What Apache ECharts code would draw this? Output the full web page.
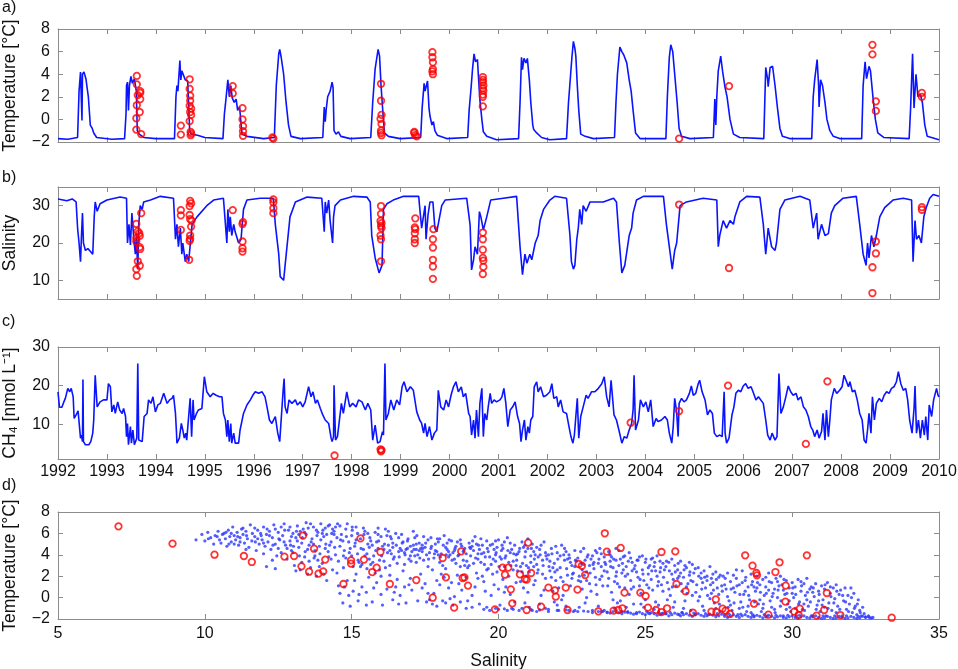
<!DOCTYPE html>
<html>
<head>
<meta charset="utf-8">
<script src="https://cdn.jsdelivr.net/npm/echarts@6/dist/echarts.min.js"></script>
<style>
  html, body { margin: 0; padding: 0; background: #fff; }
  #chart { width: 958px; height: 669px; }
</style>
</head>
<body>
<div id="chart"></div>
<script>
// ---- data ----
// a) temperature record [year, degC]
var tempLine = [
  [1992.00,-1.7],[1992.20,-1.75],[1992.40,-1.6],[1992.43,2.5],[1992.46,4.2],[1992.49,-0.1],[1992.50,4.0],[1992.53,4.2],[1992.57,3.6],[1992.62,2.0],[1992.66,-0.5],[1992.70,-0.8],[1992.73,-1.2],[1992.79,-1.6],
  [1993.10,-1.75],[1993.36,-1.7],[1993.39,0.5],[1993.40,3.0],[1993.42,3.3],[1993.44,0.8],[1993.46,3.0],[1993.49,3.8],[1993.52,3.2],[1993.56,3.6],[1993.60,2.5],[1993.62,-1.0],[1993.66,-1.3],[1993.75,-1.6],[1994.00,-1.7],
  [1994.38,-1.7],[1994.41,2.0],[1994.43,3.0],[1994.45,2.5],[1994.49,5.2],[1994.51,3.5],[1994.53,4.3],[1994.56,4.2],[1994.60,3.5],[1994.65,3.4],[1994.69,-1.0],[1994.72,-1.3],[1994.85,-1.4],[1995.00,-1.6],
  [1995.37,-1.7],[1995.40,0.5],[1995.42,1.3],[1995.47,3.5],[1995.50,2.0],[1995.53,3.0],[1995.56,1.9],[1995.60,1.5],[1995.64,1.8],[1995.67,0.8],[1995.71,1.1],[1995.76,-1.3],[1995.86,-1.5],[1996.20,-1.7],
  [1996.42,-1.6],[1996.46,3.0],[1996.51,5.8],[1996.53,6.2],[1996.56,5.5],[1996.61,4.0],[1996.66,1.5],[1996.71,-0.5],[1996.76,-1.5],[1996.95,-1.7],
  [1997.41,-1.6],[1997.44,1.1],[1997.46,-0.2],[1997.48,0.9],[1997.51,2.0],[1997.56,2.5],[1997.60,3.3],[1997.62,2.8],[1997.64,-1.0],[1997.68,-1.3],[1997.73,-1.1],[1997.78,-1.5],[1997.97,-1.7],
  [1998.39,-1.6],[1998.43,1.5],[1998.48,4.5],[1998.54,6.2],[1998.57,5.6],[1998.60,3.0],[1998.64,0.5],[1998.67,-1.2],[1998.75,-1.5],[1998.99,-1.7],
  [1999.41,-1.6],[1999.44,1.0],[1999.48,3.2],[1999.50,2.5],[1999.55,3.4],[1999.58,1.0],[1999.60,0.3],[1999.64,-0.5],[1999.67,-0.2],[1999.70,-1.0],[1999.75,-1.4],[1999.94,-1.7],
  [2000.37,-1.6],[2000.40,0.8],[2000.44,2.8],[2000.47,4.5],[2000.50,5.8],[2000.53,5.1],[2000.57,5.3],[2000.59,3.8],[2000.62,1.7],[2000.66,0.0],[2000.69,-1.1],[2000.76,-1.5],[2000.96,-1.8],
  [2001.41,-1.7],[2001.44,1.5],[2001.47,5.5],[2001.49,4.4],[2001.52,5.4],[2001.56,5.0],[2001.59,5.4],[2001.63,3.5],[2001.66,1.5],[2001.70,-0.5],[2001.72,-0.9],[2001.78,-1.2],[2001.88,-1.6],[2002.05,-1.8],
  [2002.39,-1.7],[2002.43,1.5],[2002.46,3.2],[2002.50,5.5],[2002.53,6.9],[2002.56,6.3],[2002.58,5.6],[2002.61,3.0],[2002.64,0.8],[2002.68,-1.3],[2002.77,-1.5],[2002.94,-1.7],
  [2003.37,-1.6],[2003.40,1.5],[2003.43,4.0],[2003.48,6.4],[2003.52,6.0],[2003.56,5.7],[2003.62,5.0],[2003.67,3.5],[2003.71,2.5],[2003.75,0.8],[2003.80,-1.2],[2003.89,-1.7],
  [2004.42,-1.7],[2004.45,2.0],[2004.49,5.5],[2004.52,6.6],[2004.56,6.0],[2004.60,4.0],[2004.65,1.5],[2004.69,-0.8],[2004.74,-1.5],[2004.91,-1.7],
  [2005.39,-1.6],[2005.42,1.8],[2005.44,-0.5],[2005.46,2.0],[2005.49,4.3],[2005.54,5.6],[2005.58,4.2],[2005.63,2.8],[2005.67,2.0],[2005.73,0.0],[2005.80,-1.3],[2005.93,-1.6],
  [2006.42,-1.7],[2006.46,4.6],[2006.50,3.5],[2006.51,2.9],[2006.55,4.6],[2006.60,4.7],[2006.65,3.0],[2006.70,1.0],[2006.75,-0.8],[2006.80,-1.5],[2006.95,-1.7],
  [2007.40,-1.7],[2007.43,2.0],[2007.46,3.5],[2007.51,5.3],[2007.54,3.0],[2007.55,1.1],[2007.58,3.5],[2007.62,3.0],[2007.67,1.5],[2007.71,0.0],[2007.77,-1.0],[2007.84,-1.5],[2007.97,-1.7],
  [2008.42,-1.7],[2008.45,3.0],[2008.49,5.1],[2008.52,3.6],[2008.57,4.7],[2008.60,4.3],[2008.65,2.0],[2008.70,0.0],[2008.75,-1.2],[2008.87,-1.6],
  [2009.39,-1.7],[2009.42,1.0],[2009.46,5.8],[2009.49,1.0],[2009.53,4.0],[2009.57,2.0],[2009.62,2.2],[2009.66,1.5],[2009.71,-0.5],[2009.76,-1.5],[2010.00,-1.8]
];
var tempObs = [
  [1993.61,3.85],[1993.61,3.1],[1993.68,2.5],[1993.68,2.35],[1993.63,2.15],[1993.68,1.8],[1993.61,1.25],[1993.67,0.65],[1993.60,0.1],[1993.60,-0.9],[1993.70,-1.3],
  [1994.51,-0.55],[1994.51,-1.35],
  [1994.69,3.55],[1994.69,2.7],[1994.70,2.1],[1994.70,1.65],[1994.69,1.2],[1994.72,0.95],[1994.70,0.65],[1994.72,0.4],[1994.69,-0.15],[1994.71,-1.1],[1994.72,-1.25],[1994.71,-1.4],
  [1995.57,2.95],[1995.57,2.3],[1995.77,1.0],[1995.77,0.0],[1995.78,-0.6],[1995.78,-1.05],[1995.78,-1.45],
  [1996.38,-1.6],[1996.40,-1.7],
  [1998.60,3.15],[1998.60,1.65],[1998.61,0.4],[1998.59,0.05],[1998.61,-0.4],[1998.60,-1.0],[1998.60,-1.2],[1998.61,-1.4],
  [1999.28,-1.1],[1999.28,-1.2],[1999.30,-1.4],[1999.33,-1.5],
  [1999.65,5.95],[1999.65,5.5],[1999.66,5.05],[1999.66,4.45],[1999.65,4.25],[1999.66,4.0],
  [2000.68,3.75],[2000.68,3.5],[2000.68,3.3],[2000.69,3.0],[2000.68,2.75],[2000.69,2.55],[2000.68,2.2],[2000.68,2.0],[2000.68,1.15],
  [2004.69,-1.7],[2005.71,2.95],
  [2008.64,6.6],[2008.64,5.75],[2008.71,1.6],[2008.71,0.75],
  [2009.65,2.35],[2009.65,2.0]
];

// b) salinity record
var salLine = [
  [1992.00,31.8],[1992.18,31.3],[1992.29,31.8],[1992.33,32.3],[1992.37,31.0],[1992.40,24.0],[1992.43,20.0],[1992.46,15.0],[1992.48,22.0],[1992.50,28.0],[1992.52,20.0],[1992.56,18.0],[1992.61,18.5],[1992.66,17.8],[1992.71,17.0],[1992.74,27.0],[1992.76,31.0],[1992.80,28.5],[1992.86,30.5],
  [1993.00,31.5],[1993.27,32.3],[1993.40,32.0],[1993.42,20.0],[1993.45,25.0],[1993.48,19.5],[1993.51,28.0],[1993.55,21.0],[1993.58,17.0],[1993.60,22.0],[1993.63,13.0],[1993.65,25.0],[1993.68,30.0],[1993.72,29.0],[1993.75,31.0],[1993.89,31.5],
  [1994.09,32.5],[1994.36,32.0],[1994.40,21.0],[1994.43,25.0],[1994.46,19.0],[1994.50,24.0],[1994.53,17.0],[1994.55,20.0],[1994.60,15.0],[1994.63,17.0],[1994.67,15.0],[1994.74,25.0],[1994.84,27.0],
  [1995.04,30.0],[1995.18,31.5],[1995.38,32.0],[1995.45,20.0],[1995.47,29.0],[1995.50,23.0],[1995.52,27.0],[1995.55,22.0],[1995.59,25.0],[1995.62,23.0],[1995.69,20.0],[1995.74,21.0],[1995.79,29.0],[1995.86,31.5],
  [1996.13,32.0],[1996.40,32.0],[1996.44,25.0],[1996.51,17.0],[1996.54,11.0],[1996.61,10.0],[1996.64,14.0],[1996.74,27.0],[1996.85,31.0],
  [1997.09,32.3],[1997.39,32.0],[1997.44,23.0],[1997.46,31.0],[1997.49,28.0],[1997.53,31.5],[1997.56,26.0],[1997.61,20.0],[1997.63,27.0],[1997.66,30.0],[1997.77,31.5],
  [1998.04,32.5],[1998.31,32.3],[1998.38,31.0],[1998.41,22.0],[1998.48,16.0],[1998.56,12.0],[1998.62,14.0],[1998.65,29.0],[1998.72,30.5],[1998.85,31.5],
  [1999.06,32.5],[1999.37,32.5],[1999.40,28.0],[1999.43,24.0],[1999.50,30.0],[1999.52,21.0],[1999.56,27.5],[1999.60,31.0],[1999.66,31.0],[1999.70,24.0],[1999.74,23.0],[1999.84,30.0],[1999.91,31.5],
  [2000.35,32.0],[2000.42,24.8],[2000.45,12.8],[2000.49,15.5],[2000.52,19.0],[2000.57,17.0],[2000.61,28.4],[2000.64,27.0],[2000.69,23.5],[2000.76,27.0],[2000.84,31.5],
  [2001.10,32.0],[2001.37,32.5],[2001.44,19.0],[2001.49,11.5],[2001.54,17.0],[2001.58,14.6],[2001.64,17.0],[2001.68,15.5],[2001.75,20.0],[2001.81,22.0],[2001.85,26.0],[2001.92,29.0],
  [2002.05,31.5],[2002.15,32.5],[2002.39,32.0],[2002.46,22.0],[2002.49,15.0],[2002.53,13.0],[2002.56,14.0],[2002.60,21.0],[2002.63,24.0],[2002.66,29.0],[2002.70,25.0],[2002.73,30.0],[2002.79,28.5],[2002.87,31.0],
  [2003.14,31.0],[2003.35,32.0],[2003.41,31.0],[2003.47,20.0],[2003.52,12.0],[2003.58,14.0],[2003.62,13.5],[2003.67,22.0],[2003.72,24.0],[2003.75,28.0],[2003.82,31.5],[2003.96,32.5],
  [2004.37,32.5],[2004.43,25.0],[2004.50,18.0],[2004.55,13.0],[2004.60,18.0],[2004.64,20.0],[2004.71,30.0],[2004.84,31.0],
  [2005.18,32.0],[2005.46,31.5],[2005.49,19.0],[2005.52,22.0],[2005.59,26.0],[2005.66,24.0],[2005.73,26.0],[2005.80,25.0],[2005.83,27.0],[2005.93,31.0],
  [2006.07,32.5],[2006.34,32.3],[2006.41,25.0],[2006.46,17.0],[2006.51,24.0],[2006.58,19.0],[2006.65,18.0],[2006.68,20.0],[2006.75,29.0],[2006.85,31.5],
  [2007.16,32.5],[2007.36,31.5],[2007.43,24.0],[2007.50,28.0],[2007.53,21.0],[2007.60,25.0],[2007.67,22.0],[2007.74,22.5],[2007.80,28.0],[2007.87,30.0],
  [2008.04,32.0],[2008.31,32.5],[2008.38,25.0],[2008.45,17.0],[2008.51,14.0],[2008.54,20.0],[2008.57,16.0],[2008.62,22.0],[2008.67,19.0],[2008.72,22.0],[2008.79,27.0],[2008.89,29.5],
  [2009.06,31.5],[2009.27,32.0],[2009.44,31.5],[2009.47,15.0],[2009.51,26.0],[2009.54,21.0],[2009.59,22.0],[2009.64,20.0],[2009.69,27.0],[2009.74,29.5],[2009.81,32.0],[2009.88,33.0],[2010.00,32.5]
];
var salObs = [
  [1993.60,25.1],[1993.63,23.1],[1993.66,22.6],[1993.67,21.9],[1993.60,21.3],[1993.60,20.4],[1993.67,18.9],[1993.68,18.4],[1993.63,15.1],[1993.67,13.9],[1993.60,13.0],[1993.61,11.2],[1993.70,28.0],
  [1994.51,28.8],[1994.51,27.4],[1994.51,23.5],
  [1994.70,31.3],[1994.72,30.6],[1994.69,29.9],[1994.69,27.5],[1994.70,26.4],[1994.73,26.0],[1994.72,24.4],[1994.70,22.0],[1994.70,21.1],[1994.69,20.6],[1994.68,15.5],
  [1995.57,28.8],[1995.78,25.6],[1995.77,25.1],[1995.77,20.4],[1995.77,18.6],[1995.77,17.7],
  [1996.40,31.7],[1996.40,30.9],[1996.40,29.3],[1996.40,28.0],
  [1998.60,29.9],[1998.60,27.8],[1998.59,25.9],[1998.61,25.3],[1998.60,24.6],[1998.61,24.0],[1998.59,22.0],[1998.60,21.0],[1998.60,15.1],
  [1999.30,26.6],[1999.29,24.2],[1999.30,23.7],[1999.29,22.6],[1999.29,21.0],[1999.29,20.0],
  [1999.67,23.7],[1999.66,21.0],[1999.66,18.8],[1999.66,15.5],[1999.66,13.7],[1999.66,10.4],
  [2000.68,22.8],[2000.68,21.0],[2000.68,18.2],[2000.68,16.0],[2000.69,15.3],[2000.69,13.6],[2000.68,11.7],
  [2004.69,30.3],[2005.71,13.3],
  [2008.64,13.5],[2008.64,6.6],[2008.71,20.4],[2008.71,17.2],
  [2009.65,29.6],[2009.65,28.9]
];
var salTicks = [10, 20, 30];

// c) methane record
var ch4Line = [
  [1992.00,18.4],[1992.03,14.4],[1992.08,14.4],[1992.12,15.8],[1992.15,16.7],[1992.18,16.3],[1992.20,19.3],[1992.24,18.4],[1992.27,19.3],[1992.31,17.1],[1992.33,11.5],[1992.37,12.4],[1992.41,13.5],[1992.44,13.2],[1992.46,6.4],[1992.48,7.2],[1992.50,5.5],[1992.51,21.6],[1992.52,5.5],[1992.56,4.7],[1992.63,4.7],[1992.67,5.5],[1992.71,7.7],[1992.73,11.1],[1992.76,22.7],[1992.80,14.5],[1992.83,14.1],[1992.86,15.8],[1992.93,16.3],
  [1993.00,16.3],[1993.03,20.5],[1993.07,19.7],[1993.10,13.2],[1993.14,15.0],[1993.17,12.8],[1993.22,15.8],[1993.26,13.7],[1993.31,12.8],[1993.34,14.1],[1993.38,12.0],[1993.40,6.8],[1993.42,10.2],[1993.44,4.7],[1993.48,9.4],[1993.50,5.1],[1993.53,8.5],[1993.56,4.7],[1993.61,6.4],[1993.63,25.7],[1993.65,5.9],[1993.72,5.5],[1993.76,12.0],[1993.82,12.8],[1993.85,16.3],[1993.90,15.4],[1993.94,17.1],[1993.99,13.2],
  [1994.04,15.0],[1994.09,15.4],[1994.16,18.0],[1994.19,18.4],[1994.23,15.4],[1994.28,16.3],[1994.33,16.7],[1994.36,17.5],[1994.40,12.8],[1994.42,8.1],[1994.43,5.1],[1994.48,6.4],[1994.52,10.2],[1994.55,8.5],[1994.58,6.4],[1994.61,7.7],[1994.63,5.9],[1994.67,6.4],[1994.70,16.7],[1994.73,6.8],[1994.76,16.3],[1994.78,11.1],[1994.83,12.8],[1994.87,13.7],[1994.94,14.1],[1994.99,22.3],
  [1995.04,18.4],[1995.11,17.1],[1995.17,18.0],[1995.23,17.5],[1995.30,17.1],[1995.35,17.1],[1995.38,12.8],[1995.42,11.1],[1995.45,6.8],[1995.47,11.1],[1995.50,5.5],[1995.53,10.2],[1995.55,5.1],[1995.59,7.7],[1995.62,5.1],[1995.69,5.1],[1995.72,8.5],[1995.79,12.8],[1995.86,15.0],[1995.93,16.3],[1995.98,17.5],
  [1996.03,18.4],[1996.10,18.0],[1996.17,18.4],[1996.23,17.1],[1996.27,14.5],[1996.32,11.1],[1996.37,10.2],[1996.44,12.0],[1996.49,7.7],[1996.53,5.5],[1996.57,5.5],[1996.60,18.8],[1996.62,21.8],[1996.64,14.5],[1996.68,12.8],[1996.72,16.3],[1996.78,15.4],[1996.85,16.3],[1996.89,15.0],[1996.95,15.8],
  [1997.00,14.5],[1997.05,15.8],[1997.12,19.7],[1997.17,17.1],[1997.21,18.4],[1997.26,15.4],[1997.30,16.3],[1997.36,14.1],[1997.41,12.4],[1997.46,11.1],[1997.53,10.2],[1997.58,6.4],[1997.60,5.5],[1997.63,6.8],[1997.64,20.1],[1997.67,5.9],[1997.71,6.8],[1997.75,6.4],[1997.79,15.4],[1997.83,12.8],[1997.90,18.4],[1997.96,14.5],
  [1998.02,15.4],[1998.09,14.5],[1998.14,16.3],[1998.21,15.8],[1998.28,13.7],[1998.33,15.4],[1998.39,13.7],[1998.43,5.9],[1998.48,9.8],[1998.53,5.1],[1998.58,5.5],[1998.63,8.1],[1998.65,7.2],[1998.68,25.7],[1998.70,11.1],[1998.75,12.8],[1998.80,16.3],[1998.86,13.7],[1998.92,16.3],[1998.98,15.0],
  [1999.03,19.7],[1999.07,21.0],[1999.13,18.4],[1999.20,19.7],[1999.26,18.8],[1999.33,13.2],[1999.39,11.1],[1999.43,10.2],[1999.47,7.7],[1999.50,10.2],[1999.54,6.8],[1999.59,9.4],[1999.64,5.9],[1999.69,7.7],[1999.74,8.5],[1999.77,18.8],[1999.82,14.5],[1999.88,13.7],[1999.93,16.3],[1999.98,14.5],
  [2000.03,17.5],[2000.08,19.7],[2000.13,21.0],[2000.18,18.4],[2000.24,19.7],[2000.28,17.1],[2000.33,18.0],[2000.39,12.8],[2000.42,12.0],[2000.45,7.2],[2000.49,11.1],[2000.52,6.4],[2000.55,13.7],[2000.59,6.8],[2000.62,15.4],[2000.66,19.3],[2000.69,6.8],[2000.72,12.8],[2000.76,11.1],[2000.79,14.5],[2000.83,18.0],[2000.86,15.4],[2000.91,16.3],[2000.96,15.8],
  [2001.03,16.3],[2001.07,17.1],[2001.11,19.3],[2001.15,15.4],[2001.19,9.4],[2001.24,13.7],[2001.29,14.5],[2001.34,15.8],[2001.39,12.0],[2001.43,10.2],[2001.46,5.5],[2001.49,8.5],[2001.53,11.1],[2001.56,5.9],[2001.60,9.4],[2001.63,7.7],[2001.66,11.1],[2001.70,12.0],[2001.73,19.7],[2001.78,21.0],[2001.81,18.4],[2001.86,19.7],[2001.92,17.1],[2001.98,17.5],
  [2002.05,18.4],[2002.09,20.5],[2002.13,16.7],[2002.19,17.1],[2002.22,14.5],[2002.27,16.3],[2002.32,13.2],[2002.39,12.8],[2002.44,9.4],[2002.48,6.8],[2002.52,5.1],[2002.55,7.2],[2002.58,12.0],[2002.61,16.7],[2002.64,6.4],[2002.68,12.0],[2002.73,14.5],[2002.79,17.5],[2002.83,16.7],[2002.90,18.4],[2002.97,18.4],
  [2003.04,19.3],[2003.11,20.5],[2003.16,22.3],[2003.21,17.1],[2003.26,14.5],[2003.30,21.4],[2003.36,12.4],[2003.41,11.1],[2003.46,8.5],[2003.52,5.1],[2003.57,6.8],[2003.62,6.4],[2003.67,8.5],[2003.72,10.2],[2003.75,13.7],[2003.77,22.7],[2003.80,8.5],[2003.86,11.1],[2003.90,16.3],[2003.96,14.5],
  [2004.01,15.8],[2004.06,13.2],[2004.11,16.3],[2004.16,9.4],[2004.22,11.5],[2004.26,10.7],[2004.33,11.1],[2004.40,12.0],[2004.45,11.1],[2004.49,7.7],[2004.54,5.1],[2004.57,9.4],[2004.60,16.7],[2004.64,13.2],[2004.67,6.8],[2004.69,15.4],[2004.74,16.7],[2004.79,15.8],[2004.84,16.3],[2004.90,18.0],[2004.94,19.9],[2004.98,17.5],
  [2005.03,18.0],[2005.08,20.5],[2005.11,21.4],[2005.16,18.4],[2005.22,16.3],[2005.27,12.4],[2005.32,13.7],[2005.37,12.8],[2005.41,7.7],[2005.46,6.8],[2005.52,7.2],[2005.57,6.8],[2005.61,18.4],[2005.63,7.7],[2005.66,5.1],[2005.71,6.4],[2005.77,12.4],[2005.81,14.5],[2005.85,18.0],[2005.90,18.8],[2005.95,18.4],
  [2006.00,19.9],[2006.05,20.5],[2006.10,19.3],[2006.16,19.7],[2006.20,18.4],[2006.26,16.3],[2006.31,17.1],[2006.35,17.5],[2006.41,15.4],[2006.46,11.1],[2006.50,7.2],[2006.55,5.9],[2006.59,7.7],[2006.65,5.9],[2006.69,6.8],[2006.73,23.1],[2006.77,12.8],[2006.82,14.5],[2006.87,17.1],[2006.92,19.9],[2006.97,18.4],
  [2007.02,17.5],[2007.08,18.0],[2007.12,16.3],[2007.18,17.1],[2007.23,14.5],[2007.28,13.7],[2007.33,12.0],[2007.38,9.4],[2007.42,8.5],[2007.46,6.8],[2007.51,8.5],[2007.55,6.4],[2007.60,8.1],[2007.63,12.8],[2007.67,5.9],[2007.70,13.7],[2007.74,6.8],[2007.77,11.1],[2007.80,16.3],[2007.86,19.3],[2007.91,18.0],[2007.97,18.8],
  [2008.02,19.7],[2008.06,22.7],[2008.10,21.4],[2008.15,19.7],[2008.18,21.0],[2008.23,18.4],[2008.28,18.8],[2008.33,16.3],[2008.38,12.8],[2008.43,11.1],[2008.47,5.9],[2008.51,5.1],[2008.54,8.5],[2008.57,12.8],[2008.61,7.7],[2008.64,17.1],[2008.68,11.1],[2008.72,15.4],[2008.78,16.7],[2008.83,15.8],[2008.88,17.5],[2008.93,18.4],[2008.98,18.0],
  [2009.03,19.3],[2009.08,19.7],[2009.13,21.0],[2009.17,23.6],[2009.22,20.5],[2009.27,18.8],[2009.32,19.3],[2009.36,16.3],[2009.40,11.1],[2009.45,7.7],[2009.49,14.1],[2009.51,19.9],[2009.54,7.7],[2009.58,11.1],[2009.62,6.4],[2009.66,11.1],[2009.70,7.2],[2009.73,12.0],[2009.77,5.9],[2009.80,15.0],[2009.85,12.0],[2009.89,16.3],[2009.95,19.3],[2009.98,17.5],[2010.00,17.1]
];
var ch4Obs = [
  [1997.65,1.9],[1998.59,3.5],[1998.60,3.0],[1998.61,3.3],
  [2003.70,10.4],[2004.69,13.4],[2005.69,20.0],[2007.28,4.9],[2007.72,21.1]
];
var ch4Ticks = [10, 20, 30];

// d) T-S diagram: continuous record (blue) [salinity, degC]
var tsBlue = [
  [9.7,5.4],[9.9,5.9],[10.0,5.3],[10.1,6.1],[10.2,5.6],[10.3,5.0],[10.35,5.8],[10.45,6.2],[10.5,5.4],[10.55,5.1],[10.6,5.9],[10.65,6.0],
  [10.7,5.5],[10.75,4.8],[10.8,6.3],[10.85,5.7],[10.9,5.2],[10.95,6.6],[11.0,5.8],[11.05,5.4],[11.1,6.1],[11.15,4.9],[11.2,5.6],[11.25,6.4],[11.3,5.9],[11.35,5.1],[11.4,6.2],[11.45,5.5],[11.5,4.7],[11.55,6.8],[11.6,5.3],[11.62,6.0],[11.0,5.0],[11.2,5.2],[11.4,4.5],[10.9,6.0],[11.3,6.5],
  [11.7,5.7],[11.75,4.4],[11.8,6.3],[11.85,5.0],[11.9,6.0],[11.95,5.4],[12.0,6.6],[12.05,4.8],[12.1,5.9],[12.1,2.9],[12.15,5.2],[12.2,6.2],[12.25,4.5],[12.3,5.6],[12.35,6.8],[12.4,5.0],[12.45,3.9],[12.5,6.1],[12.55,5.4],[12.6,4.2],[11.8,5.5],[12.0,5.1],[12.2,5.8],[12.4,6.4],[12.5,4.6],[11.7,6.5],[12.3,3.5],[12.6,6.6],[12.0,4.1],[12.4,2.7],
  [12.65,5.8],[12.7,6.9],[12.75,4.9],[12.8,3.6],[12.85,6.3],[12.9,5.3],[12.95,4.4],[13.0,6.0],[13.05,3.0],[13.1,5.6],[13.15,6.7],[13.2,4.7],[13.25,2.6],[13.3,5.1],[13.35,6.4],[13.4,3.8],[13.45,5.9],[13.5,2.2],[13.55,4.9],[13.6,6.9],[12.7,5.2],[12.9,6.6],[13.0,4.2],[13.1,2.5],[13.2,5.9],[13.3,3.3],[13.4,6.1],[13.5,4.5],[13.6,2.8],[12.8,4.6],[13.15,5.3],[13.45,7.0],[13.55,3.4],[13.25,6.2],[12.95,5.7],
  [13.65,5.5],[13.7,6.6],[13.75,3.9],[13.8,2.0],[13.85,6.1],[13.9,4.8],[13.95,6.9],[14.0,3.2],[14.05,5.7],[14.1,6.5],[14.15,1.6],[14.2,4.3],[14.25,6.8],[14.3,5.2],[14.35,2.6],[14.4,6.2],[14.45,4.0],[14.5,5.6],[14.55,1.1],[14.6,6.7],[13.7,5.0],[13.8,6.3],[13.9,2.9],[14.0,6.0],[14.1,4.6],[14.2,6.7],[14.3,3.6],[14.4,5.9],[14.5,2.3],[14.6,4.8],[13.75,4.4],[13.95,5.4],[14.15,5.9],[14.35,6.4],[14.55,3.4],[14.05,2.2],[14.25,4.9],[14.45,6.6],[13.85,3.5],[14.6,0.4],
  [14.65,5.9],[14.7,-0.5],[14.72,2.8],[14.75,4.4],[14.8,6.4],[14.85,1.6],[14.9,5.2],[14.95,-0.8],[15.0,3.9],[15.02,6.6],[15.05,0.6],[15.1,4.8],[15.15,2.2],[15.2,6.0],[15.22,-0.3],[15.25,3.3],[15.3,5.5],[15.35,1.0],[15.4,4.5],[15.45,6.2],[15.5,-0.7],[15.52,2.7],[15.55,5.0],[15.6,3.6],[14.7,5.3],[14.8,3.7],[14.9,0.2],[15.0,5.8],[15.1,1.6],[15.2,4.1],[15.3,2.9],[15.4,6.5],[15.5,0.5],[15.6,4.7],[14.75,1.0],[14.95,4.6],[15.15,5.4],[15.35,3.1],[15.55,6.0],[15.05,2.9],[15.25,0.3],[15.45,3.9],[14.85,6.9],[15.15,6.6],[15.58,1.9],
  [15.65,5.3],[15.7,-0.4],[15.75,3.9],[15.8,6.1],[15.85,1.4],[15.9,4.6],[15.95,2.6],[16.0,5.7],[16.05,-0.7],[16.1,3.4],[16.15,6.4],[16.2,0.8],[16.25,4.9],[16.3,2.1],[16.35,5.5],[16.4,-0.2],[16.45,3.8],[16.5,6.0],[16.55,1.7],[16.6,4.3],[15.7,4.9],[15.8,2.3],[15.9,5.9],[16.0,0.3],[16.1,4.5],[16.2,5.8],[16.3,3.0],[16.4,5.1],[16.5,1.0],[16.6,5.6],[15.75,0.9],[15.95,3.5],[16.15,2.8],[16.35,4.1],[16.55,3.2],[15.65,3.1],[15.85,5.2],[16.05,4.8],[16.25,6.2],[16.45,0.5],[16.6,-0.6],[16.0,2.0],[16.4,4.7],[15.9,6.5],[16.3,4.4],
  [16.65,4.6],[16.7,5.9],[16.75,2.5],[16.8,4.2],[16.85,-0.5],[16.9,5.3],[16.95,3.6],[17.0,4.8],[17.05,0.7],[17.1,6.2],[17.15,3.9],[17.2,4.5],[17.25,-0.3],[17.3,5.1],[17.35,2.2],[17.4,4.3],[17.45,5.7],[17.5,1.3],[17.55,4.0],[17.6,5.4],[16.7,4.4],[16.8,3.1],[16.9,4.6],[17.0,1.8],[17.1,4.9],[17.2,3.3],[17.3,4.4],[17.4,0.9],[17.5,4.7],[17.6,2.9],[16.75,5.2],[16.95,1.2],[17.15,5.6],[17.35,4.6],[17.55,-0.4],[16.65,0.2],[16.85,4.5],[17.05,4.3],[17.25,4.0],[17.45,3.5],[16.8,1.0],[17.2,5.0],[17.0,3.9],[17.4,4.9],[17.6,0.4],
  [17.65,4.2],[17.7,5.6],[17.75,-0.6],[17.8,3.7],[17.85,4.4],[17.9,1.6],[17.95,5.2],[18.0,3.3],[18.05,4.1],[18.1,-0.3],[18.15,5.8],[18.2,2.7],[18.25,4.5],[18.3,0.9],[18.35,4.0],[18.4,5.3],[18.45,-0.7],[18.5,3.6],[18.55,4.8],[18.6,2.1],[17.7,4.6],[17.8,0.4],[17.9,4.3],[18.0,5.5],[18.1,3.0],[18.2,4.7],[18.3,3.8],[18.4,1.4],[18.5,4.4],[18.6,5.2],[17.75,2.6],[17.95,4.0],[18.15,1.9],[18.35,-0.1],[18.55,3.2],[17.65,-0.2],[17.85,5.0],[18.05,2.2],[18.25,5.1],[18.45,4.2],[17.9,-0.8],[18.3,4.3],[18.0,1.2],[18.5,0.1],[18.2,-0.5],
  [18.65,4.0],[18.7,5.4],[18.75,0.7],[18.8,3.5],[18.85,4.6],[18.9,-1.0],[18.95,2.8],[19.0,5.1],[19.05,3.9],[19.1,0.2],[19.15,4.4],[19.2,5.7],[19.25,2.3],[19.3,4.1],[19.35,-0.6],[19.4,3.3],[19.45,4.9],[19.5,1.5],[19.55,3.8],[19.6,5.3],[18.7,2.9],[18.8,4.3],[18.9,1.9],[19.0,3.0],[19.1,4.8],[19.2,1.0],[19.3,3.6],[19.4,5.5],[19.5,-1.1],[19.6,2.6],[18.75,4.8],[18.95,-0.3],[19.15,3.2],[19.35,4.5],[19.55,0.6],[18.65,1.3],[18.85,3.0],[19.05,4.6],[19.25,5.0],[19.45,2.0],[18.9,4.1],[19.3,1.8],[19.5,4.2],[19.1,-0.9],[18.7,-0.4],
  [19.65,4.3],[19.7,-1.2],[19.75,3.1],[19.8,5.0],[19.85,1.2],[19.9,4.0],[19.95,2.4],[20.0,5.4],[20.05,-0.7],[20.1,3.6],[20.15,4.6],[20.2,0.5],[20.25,3.9],[20.3,5.6],[20.35,2.0],[20.4,4.2],[20.45,-1.0],[20.5,3.4],[20.55,4.9],[20.6,1.4],[19.7,3.8],[19.8,2.2],[19.9,5.3],[20.0,0.8],[20.1,4.4],[20.2,2.9],[20.3,-1.2],[20.4,5.1],[20.5,2.6],[20.6,4.0],[19.75,0.2],[19.95,4.7],[20.15,1.7],[20.35,3.3],[20.55,-0.4],[19.65,2.7],[19.85,4.5],[20.05,3.8],[20.25,1.0],[20.45,4.5],[20.0,-1.1],[20.4,0.3],[19.9,3.4],[20.2,5.2],[20.6,3.0],
  [20.65,4.1],[20.7,-1.2],[20.75,2.9],[20.8,5.2],[20.85,0.9],[20.9,3.8],[20.95,2.0],[21.0,4.6],[21.05,-0.9],[21.1,3.3],[21.15,5.0],[21.2,1.2],[21.25,4.0],[21.3,-1.3],[21.35,2.6],[21.4,4.5],[21.45,0.2],[21.5,3.5],[21.55,5.2],[21.6,1.8],[20.7,4.3],[20.8,2.4],[20.9,4.9],[21.0,0.5],[21.1,3.9],[21.2,2.9],[21.3,4.7],[21.4,-0.6],[21.5,2.2],[21.6,4.2],[20.75,1.5],[20.95,3.0],[21.15,-1.2],[21.35,3.8],[21.55,0.7],[20.65,2.5],[20.85,4.7],[21.05,2.4],[21.25,1.6],[21.45,4.9],[20.9,-0.5],[21.3,3.1],[21.0,5.5],[21.6,-1.0],[21.2,4.3],
  [21.65,3.6],[21.7,-1.3],[21.75,2.5],[21.8,4.6],[21.85,0.6],[21.9,3.2],[21.95,1.6],[22.0,4.2],[22.05,-1.2],[22.1,2.8],[22.15,4.9],[22.2,0.2],[22.25,3.5],[22.3,-0.8],[22.35,2.1],[22.4,4.0],[22.45,1.1],[22.5,3.0],[22.55,-1.3],[22.6,4.4],[21.7,4.0],[21.8,1.9],[21.9,-0.4],[22.0,2.6],[22.1,3.9],[22.2,1.5],[22.3,4.3],[22.4,-1.2],[22.5,1.8],[22.6,2.9],[21.75,3.4],[21.95,4.8],[22.15,-0.2],[22.35,3.6],[22.55,2.3],[21.85,2.8],[22.05,0.9],[22.25,4.6],[22.45,3.3],[22.0,-0.7],
  [22.65,3.4],[22.7,-1.3],[22.75,2.0],[22.8,4.3],[22.85,0.8],[22.9,3.1],[22.95,-0.5],[23.0,2.4],[23.05,4.0],[23.1,1.3],[23.15,3.6],[23.2,-1.4],[23.25,2.7],[23.3,4.4],[23.35,0.3],[23.4,3.2],[23.45,1.7],[23.5,4.1],[23.55,-1.3],[23.6,2.5],[22.7,3.7],[22.8,1.5],[22.9,4.6],[23.0,0.0],[23.1,3.0],[23.2,3.9],[23.3,1.9],[23.4,-0.8],[23.5,2.9],[23.6,3.8],[22.75,-0.9],[22.95,3.5],[23.15,0.6],[23.35,4.2],[23.55,1.1],[22.85,2.6],[23.05,-1.3],[23.25,3.3],[23.45,4.6],[23.0,1.6],
  [23.65,3.1],[23.7,-1.4],[23.75,1.8],[23.8,4.0],[23.85,0.5],[23.9,2.8],[23.95,-1.0],[24.0,3.5],[24.05,1.3],[24.1,4.4],[24.15,-0.3],[24.2,2.3],[24.25,3.8],[24.3,0.9],[24.35,2.9],[24.4,-1.4],[24.45,4.2],[24.5,1.6],[24.55,3.3],[24.6,-0.6],[23.7,2.4],[23.8,3.4],[23.9,-0.2],[24.0,2.0],[24.1,3.0],[24.2,-1.3],[24.3,3.9],[24.4,2.2],[24.5,3.7],[24.6,1.0],[23.75,4.3],[23.95,1.5],[24.15,3.6],[24.35,-0.9],[24.55,2.5],[23.85,3.8],[24.05,-0.5],[24.25,2.6],[24.45,0.3],[24.0,4.6],
  [24.65,3.0],[24.7,-1.5],[24.75,1.9],[24.8,3.8],[24.85,0.4],[24.9,2.6],[24.95,-0.9],[25.0,3.3],[25.05,1.2],[25.1,2.2],[25.15,-1.5],[25.2,3.6],[25.25,0.7],[25.3,2.9],[25.35,-0.4],[25.4,3.9],[25.45,1.5],[25.5,2.4],[25.55,-1.5],[25.6,3.2],[24.7,2.4],[24.8,1.1],[24.9,3.9],[25.0,-0.2],[25.1,2.8],[25.2,1.7],[25.3,-1.1],[25.4,2.0],[25.5,3.4],[25.6,0.6],[24.75,3.5],[24.95,1.6],[25.15,3.0],[25.35,2.5],[25.55,1.2],[24.85,-0.6],[25.25,3.7],[25.45,-0.7],
  [25.65,2.6],[25.7,-1.5],[25.75,1.4],[25.8,3.3],[25.85,0.2],[25.9,2.2],[25.95,-0.9],[26.0,3.0],[26.05,1.1],[26.1,2.6],[26.15,-1.6],[26.2,3.4],[26.25,0.6],[26.3,1.9],[26.35,-0.3],[26.4,2.8],[26.45,1.3],[26.5,2.1],[26.55,-1.2],[26.6,3.1],[25.7,2.9],[25.8,0.8],[25.9,3.6],[26.0,-0.4],[26.1,1.8],[26.2,2.3],[26.3,-1.0],[26.4,1.0],[26.5,3.3],[26.6,0.2],[25.75,-0.2],[25.95,1.7],[26.15,2.0],[26.35,3.0],[26.55,1.6],[26.25,-1.4],
  [26.65,2.3],[26.7,-1.6],[26.75,1.2],[26.8,2.8],[26.85,0.1],[26.9,1.8],[26.95,-0.8],[27.0,2.5],[27.05,0.9],[27.1,1.6],[27.15,-1.6],[27.2,2.9],[27.25,0.4],[27.3,1.4],[27.35,-0.5],[27.4,2.4],[27.45,0.9],[27.5,1.9],[27.55,-1.3],[27.6,1.1],[26.7,2.7],[26.8,-0.3],[26.9,2.3],[27.0,-1.2],[27.1,2.0],[27.2,-0.1],[27.3,2.2],[27.4,-1.0],[27.5,0.3],[26.95,1.4],[27.25,1.8],[27.55,2.1],
  [27.65,2.0],[27.7,-1.6],[27.75,0.8],[27.8,2.3],[27.85,-0.3],[27.9,1.5],[27.95,-1.2],[28.0,2.1],[28.05,0.5],[28.1,1.8],[28.15,-1.6],[28.2,1.2],[28.25,-0.4],[28.3,2.5],[28.35,0.3],[28.4,1.6],[28.45,-1.3],[28.5,1.0],[28.55,-0.2],[28.6,2.2],[27.7,1.2],[27.9,-0.7],[28.0,0.9],[28.2,-1.0],[28.3,1.4],[28.5,-0.8],[27.8,0.1],[28.1,2.6],[28.4,0.6],[28.6,-1.4],
  [28.65,1.5],[28.7,-1.7],[28.75,0.6],[28.8,2.0],[28.85,-0.6],[28.9,1.2],[28.95,-1.3],[29.0,1.7],[29.05,0.2],[29.1,1.0],[29.15,-1.7],[29.2,2.3],[29.25,-0.3],[29.3,1.4],[29.35,0.4],[29.4,-1.1],[29.45,1.8],[29.5,0.0],[29.55,1.1],[29.6,-0.8],[28.7,1.0],[28.9,-0.2],[29.0,-1.0],[29.2,0.7],[29.3,-0.9],[29.5,1.5],[28.8,0.9],[29.1,1.9],[29.4,0.8],[29.6,2.0],
  [29.65,1.2],[29.7,-1.7],[29.75,0.3],[29.8,1.6],[29.85,-0.6],[29.9,0.9],[29.95,-1.3],[30.0,1.4],[30.05,0.0],[30.1,1.0],[30.15,-1.7],[30.2,1.7],[30.25,-0.4],[30.3,0.6],[30.35,-1.1],[30.4,1.3],[30.45,0.2],[30.5,1.8],[30.55,-0.8],[30.6,0.8],[29.7,0.7],[29.9,-0.3],[30.1,-1.0],[30.3,1.5],[30.5,-0.2],[29.8,-1.1],[30.0,0.4],[30.4,-0.6],
  [30.65,1.0],[30.7,-1.7],[30.75,0.1],[30.8,1.3],[30.85,-0.7],[30.9,0.6],[30.95,-1.3],[31.0,1.1],[31.05,-0.2],[31.1,0.8],[31.15,-1.7],[31.2,1.4],[31.25,-0.5],[31.3,0.4],[31.35,-1.2],[31.4,0.9],[31.45,-0.1],[31.5,1.2],[31.55,-0.8],[31.6,0.3],[30.7,0.5],[30.9,-0.3],[31.1,-0.9],[31.3,1.0],[31.5,-1.4],
  [31.65,0.7],[31.7,-1.7],[31.75,-0.3],[31.8,0.9],[31.85,-1.1],[31.9,0.2],[31.95,-0.6],[32.0,0.9],[32.05,-1.4],[32.1,0.4],[32.15,-0.8],[32.2,-1.6],[32.25,-0.2],[32.3,-1.2],[32.35,-1.7],[32.4,-0.9],[32.45,-1.5],[32.5,-1.8],[32.6,-1.7],[32.7,-1.9],
  // denser core of the cloud
  [10.12,5.5],[10.42,5.7],[10.72,6.1],[10.82,5.0],[11.12,5.7],[11.42,5.8],[11.72,5.2],[11.92,5.8],[12.12,6.4],[12.32,4.9],[12.52,5.5],[12.72,6.3],[12.92,4.9],
  [13.02,4.8],[13.12,6.2],[13.22,3.9],[13.32,5.6],[13.42,4.3],[13.52,6.5],[13.62,5.2],[13.72,3.7],[13.82,5.8],[13.92,4.1],[14.02,6.3],[14.12,5.0],[14.22,3.8],[14.32,6.0],[14.42,4.7],[14.52,6.9],[14.62,5.4],[14.72,3.9],[14.82,5.7],[14.92,4.2],[15.02,6.3],[15.12,5.1],[15.22,3.5],[15.32,4.6],[15.42,5.9],[15.52,4.1],[15.62,5.6],[15.72,3.3],[15.82,4.4],[15.92,5.3],[16.02,3.9],[16.12,5.0],[16.22,4.2],[16.32,5.7],[16.42,3.6],[16.52,4.9],[16.62,3.8],[16.72,5.1],[16.82,4.0],[16.92,5.5],[17.02,3.4],[17.12,4.5],[17.22,5.8],[17.32,3.7],[17.42,4.6],[17.52,5.1],[17.62,3.6],[17.72,4.8],[17.82,4.1],[17.92,5.5],[18.02,3.8],[18.12,4.9],[18.22,4.0],[18.32,5.4],[18.42,3.5],[18.52,4.6],[18.62,3.9],[18.72,5.0],[18.82,4.4],[18.92,3.4],[19.02,4.7],[19.12,5.3],[19.22,3.7],[19.32,4.9],[19.42,4.1],[19.52,3.1],[19.62,4.6],[19.72,4.9],[19.82,3.6],[19.92,4.2],
  [20.02,2.9],[20.12,4.9],[20.22,3.7],[20.32,4.4],[20.42,3.0],[20.52,4.1],[20.62,3.5],[20.72,4.6],[20.82,3.2],[20.92,4.3],[21.02,2.8],[21.12,4.6],[21.22,3.6],[21.32,2.3],[21.42,4.0],[21.52,3.0],[21.62,3.9],[21.72,2.9],[21.82,4.1],[21.92,2.4],[22.02,3.6],[22.12,1.9],[22.22,4.0],[22.32,2.7],[22.42,3.7],[22.52,2.2],[22.62,3.5],[22.72,1.6],[22.82,3.2],[22.92,2.1],[23.02,3.8],[23.12,2.3],[23.22,3.1],[23.32,1.2],[23.42,3.6],[23.52,2.0],[23.62,3.3],[23.72,1.1],[23.82,2.9],[23.92,3.6],[24.02,2.4],[24.12,1.0],[24.22,3.2],[24.32,2.0],[24.42,3.4],[24.52,0.8],[24.62,2.7],[24.72,3.5],[24.82,1.7],[24.92,2.2],
  [25.02,3.6],[25.12,0.9],[25.22,2.5],[25.32,3.3],[25.42,1.1],[25.52,2.8],[25.62,1.9],[25.72,3.4],[25.82,2.5],[25.92,1.0],[26.02,2.4],[26.12,3.2],[26.22,1.3],[26.32,2.6],[26.42,0.4],[26.52,2.4],[26.62,1.5],[26.72,0.5],[26.82,2.0],[26.92,0.8],[27.02,1.9],[27.12,0.2],[27.22,1.2],[27.32,0.7],[27.42,1.7],[27.52,-0.6],[27.62,0.6],[27.72,1.8],[27.82,-0.9],[27.92,0.8],
  [28.02,-0.5],[28.12,1.1],[28.22,0.3],[28.32,-0.9],[28.42,1.9],[28.52,0.2],[28.62,1.2],[28.72,-0.4],[28.82,1.4],[28.92,0.5],[29.02,-0.6],[29.12,0.4],[29.22,1.5],[29.32,0.1],[29.42,-1.4],[29.52,0.7],[29.62,-0.3],[29.72,1.7],[29.82,0.4],[29.92,-0.9],[30.02,0.9],[30.12,0.3],[30.22,-0.6],[30.32,1.1],[30.42,-1.2],[30.52,0.5],[30.62,-0.4],[30.72,0.9],[30.82,-1.1],[30.92,0.3],[31.02,-0.7],[31.12,1.2],[31.22,-1.0],[31.32,0.1],[31.42,-0.5],[31.52,0.6],[31.62,-1.1],[31.72,0.2],[31.82,-0.4],[31.92,-1.3],[32.02,0.0],[32.12,-1.0],[32.22,-0.6],[32.32,-1.4],
  // near-freezing band
  [23.5,-1.3],[23.7,-1.35],[23.9,-1.3],[24.1,-1.4],[24.3,-1.35],[24.5,-1.45],[24.7,-1.4],[24.9,-1.5],[25.1,-1.45],[25.3,-1.5],[25.5,-1.55],[25.7,-1.5],[25.9,-1.6],[26.1,-1.55],[26.3,-1.6],[26.5,-1.65],[26.7,-1.6],[26.9,-1.65],[27.1,-1.7],[27.3,-1.65],[27.5,-1.7],[27.7,-1.75],[27.9,-1.7],[28.1,-1.75],[28.3,-1.7],[28.5,-1.75],[28.7,-1.8],[28.9,-1.75],[29.1,-1.8],[29.3,-1.75],[29.5,-1.8],[29.7,-1.85],[29.9,-1.8],[30.1,-1.85],[30.3,-1.8],[30.5,-1.85],[30.7,-1.8],[30.9,-1.85],[31.1,-1.9],[31.3,-1.85],[31.5,-1.9],[31.7,-1.85],[31.9,-1.9],[32.1,-1.85],[32.3,-1.9],[32.5,-1.85],[32.65,-1.9],
  [23.6,-1.2],[23.8,-1.45],[24.0,-1.25],[24.2,-1.5],[24.4,-1.3],[24.6,-1.55],[24.8,-1.35],[25.0,-1.6],[25.2,-1.4],[25.4,-1.65],[25.6,-1.45],[25.8,-1.7],[26.0,-1.45],[26.2,-1.7],[26.4,-1.5],[26.6,-1.75],[26.8,-1.5],[27.0,-1.75],[27.2,-1.55],[27.4,-1.8],[27.6,-1.55],[27.8,-1.85],[28.0,-1.6],[28.2,-1.85],[28.4,-1.6],[28.6,-1.85],[28.8,-1.65],[29.0,-1.9],[29.2,-1.65],[29.4,-1.9],[29.6,-1.7],[29.8,-1.9],[30.0,-1.7],[30.2,-1.95],[30.4,-1.7],[30.6,-1.9],[30.8,-1.7],[31.0,-1.95],[31.2,-1.75],[31.4,-1.95],[31.6,-1.75],[31.8,-1.95],[32.0,-1.75],[32.2,-1.95],[32.4,-1.75],[32.6,-1.8],[32.75,-1.85],
  [19.6,-0.9],[19.9,-1.0],[20.2,-1.05],[20.5,-1.1],[20.8,-1.0],[21.1,-1.1],[21.4,-1.15],[21.7,-1.1],[22.0,-1.2],[22.3,-1.15],[22.6,-1.2],[22.9,-1.25],[23.2,-1.2],[23.4,-1.3],
  [25.05,-1.3],[25.45,-1.35],[25.85,-1.4],[26.25,-1.4],[26.65,-1.45],[27.05,-1.5],[27.45,-1.5],[27.85,-1.55],[28.25,-1.55],[28.65,-1.6],[29.05,-1.6],[29.45,-1.65],[29.85,-1.65],[30.25,-1.65],[30.65,-1.7],[31.05,-1.7],[31.45,-1.7],[31.85,-1.7],[32.25,-1.75]
];
// d) discrete samples (red)
var tsRed = [
  [7.06,6.66],[8.90,5.04],[10.33,4.01],[11.33,3.89],[11.60,3.33],[12.71,3.83],[13.04,3.89],[13.34,5.79],[13.29,2.92],[13.55,2.42],[13.72,4.57],[13.87,2.24],[14.03,2.45],[14.10,3.55],[14.72,1.27],[14.98,3.48],[14.98,3.17],[15.30,5.54],[15.42,3.55],[15.70,2.39],[15.85,2.80],[15.98,4.26],[16.30,1.27],[17.20,1.64],[17.76,-0.01],[18.10,3.70],[18.21,1.89],[18.49,-0.94],[18.73,4.32],[18.78,1.83],[18.84,1.89],[18.96,1.12],
  [19.88,-1.10],[20.14,2.80],[20.33,2.80],[20.22,2.14],[20.73,2.17],[20.42,0.77],[20.47,-0.54],[20.90,1.74],[20.96,1.68],[21.01,5.13],[21.11,2.30],[20.96,-1.16],[21.45,-0.85],[21.70,0.93],[21.92,0.68],[21.95,0.09],[22.29,0.93],[22.35,-1.16],[22.69,0.74],[22.73,3.14],[22.84,2.98],[22.95,2.11],[23.40,-1.28],[23.62,6.01],[23.69,4.29],[23.92,-1.22],[24.08,-1.16],[24.22,-1.00],[24.16,4.64],[24.29,0.46],[24.83,0.46],[25.01,0.15],[25.09,-0.94],[25.36,-1.16],[25.55,-1.35],[25.55,4.26],[25.74,-1.00],[26.02,4.32],[26.06,1.27],[26.37,0.59],[26.62,-1.41],[27.25,-1.31],[27.40,-0.16],[27.42,-1.35],[27.63,-1.03],[27.73,-1.22],[27.88,-1.53],[28.40,3.95],[28.65,2.98],[28.70,-0.57],[28.78,2.30],[28.80,2.08],[29.19,-1.60],[29.43,2.39],[29.57,3.30],[29.78,1.12],[29.77,-0.38],[30.07,-1.31],[30.26,-1.03],[30.22,-1.63],[30.50,3.95],[30.83,-1.69],[31.09,-1.16],[31.18,0.43],[31.64,-1.63],[33.39,-1.88]
];

// ---- chart ----
var myChart = echarts.init(document.getElementById("chart"), null, { renderer: "canvas" });
var font = "'Liberation Sans', Arial, Helvetica, sans-serif";
var boxColor = "#8c8c8c";
var lineBlue = "#0a14ff";
var minus = function (v) { return String(v).replace("-", "\u2212"); };

// plot boxes (px); outerBoundsMode none keeps them fixed
var L = 58, W = 881;
var grids = [
  { left: L, width: W, top: 29, height: 113, outerBoundsMode: "none", containLabel: false },
  { left: L, width: W, top: 187, height: 112, outerBoundsMode: "none", containLabel: false },
  { left: L, width: W, top: 347, height: 112, outerBoundsMode: "none", containLabel: false },
  { left: L, width: W, top: 512, height: 107, outerBoundsMode: "none", containLabel: false }
];

function axis(dim, g, cfg, dup) {
  var a = {
    type: "value",
    gridIndex: g,
    min: cfg.min,
    max: cfg.max,
    position: dup ? (dim === "x" ? "top" : "right") : (dim === "x" ? "bottom" : "left"),
    axisLine: { show: true, onZero: false, lineStyle: { color: boxColor, width: 1 } },
    axisTick: { show: true, inside: true, length: 5, lineStyle: { color: boxColor } },
    axisLabel: {
      show: !dup && !!cfg.labels,
      color: "#111",
      fontSize: 16,
      fontFamily: font,
      margin: cfg.margin || 8,
      showMinLabel: true,
      showMaxLabel: true,
      formatter: minus
    },
    splitLine: { show: false }
  };
  if (cfg.ticks) {
    a.axisLabel.customValues = cfg.ticks;
    a.axisTick.customValues = cfg.ticks;
  } else {
    a.interval = cfg.interval;
  }
  if (!dup && cfg.name) {
    a.name = cfg.name;
    a.nameLocation = "middle";
    a.nameGap = cfg.nameGap;
    a.nameTextStyle = { color: "#111", fontSize: 17.5, fontFamily: font };
  }
  return a;
}

var xCfg = [
  { min: 1992, max: 2010, interval: 1 },
  { min: 1992, max: 2010, interval: 1 },
  { min: 1992, max: 2010, interval: 1, labels: true, margin: 5 },
  { min: 5, max: 35, interval: 5, labels: true, margin: 7, name: "Salinity", nameGap: 33 }
];
var yCfg = [
  { min: -2, max: 8, interval: 2, labels: true, name: "Temperature [°C]", nameGap: 39 },
  { min: 5, max: 35, ticks: salTicks, labels: true, name: "Salinity", nameGap: 39 },
  { min: 1, max: 30, ticks: ch4Ticks, labels: true, name: "CH\u2084 [nmol L\u207B\u00B9]", nameGap: 39 },
  { min: -2, max: 8, interval: 2, labels: true, name: "Temperature [°C]", nameGap: 39 }
];

var xAxes = [], yAxes = [];
for (var i = 0; i < 4; i++) {
  xAxes.push(axis("x", i, xCfg[i], false));
  xAxes.push(axis("x", i, xCfg[i], true));
  yAxes.push(axis("y", i, yCfg[i], false));
  yAxes.push(axis("y", i, yCfg[i], true));
}

function lineSeries(g, data) {
  return {
    type: "line", xAxisIndex: 2 * g, yAxisIndex: 2 * g, data: data,
    showSymbol: false, symbol: "none", silent: true,
    lineStyle: { color: lineBlue, width: 1.6 }, z: 2
  };
}
function obsSeries(g, data) {
  return {
    type: "scatter", xAxisIndex: 2 * g, yAxisIndex: 2 * g, data: data,
    symbol: "circle", symbolSize: 6.5, silent: true,
    itemStyle: { color: "rgba(255,255,255,0)", borderColor: "#ff0000", borderWidth: 1.8 }, z: 4
  };
}

var option = {
  animation: false,
  backgroundColor: "#fff",
  textStyle: { fontFamily: font },
  grid: grids,
  xAxis: xAxes,
  yAxis: yAxes,
  graphic: [
    { type: "text", left: 2, top: 0, style: { text: "a)", font: "16px " + font, fill: "#111" } },
    { type: "text", left: 2, top: 170, style: { text: "b)", font: "16px " + font, fill: "#111" } },
    { type: "text", left: 2, top: 314, style: { text: "c)", font: "16px " + font, fill: "#111" } },
    { type: "text", left: 2, top: 478, style: { text: "d)", font: "16px " + font, fill: "#111" } }
  ],
  series: [
    lineSeries(0, tempLine),
    obsSeries(0, tempObs),
    lineSeries(1, salLine),
    obsSeries(1, salObs),
    lineSeries(2, ch4Line),
    obsSeries(2, ch4Obs),
    {
      type: "scatter", xAxisIndex: 6, yAxisIndex: 6, data: tsBlue,
      symbol: "circle", symbolSize: 3.2, silent: true,
      itemStyle: { color: "#2b36ff", opacity: 0.8 }, z: 2
    },
    obsSeries(3, tsRed)
  ]
};

myChart.setOption(option);
window.addEventListener("resize", function () {
  myChart.resize();
});
</script>
</body>
</html>
